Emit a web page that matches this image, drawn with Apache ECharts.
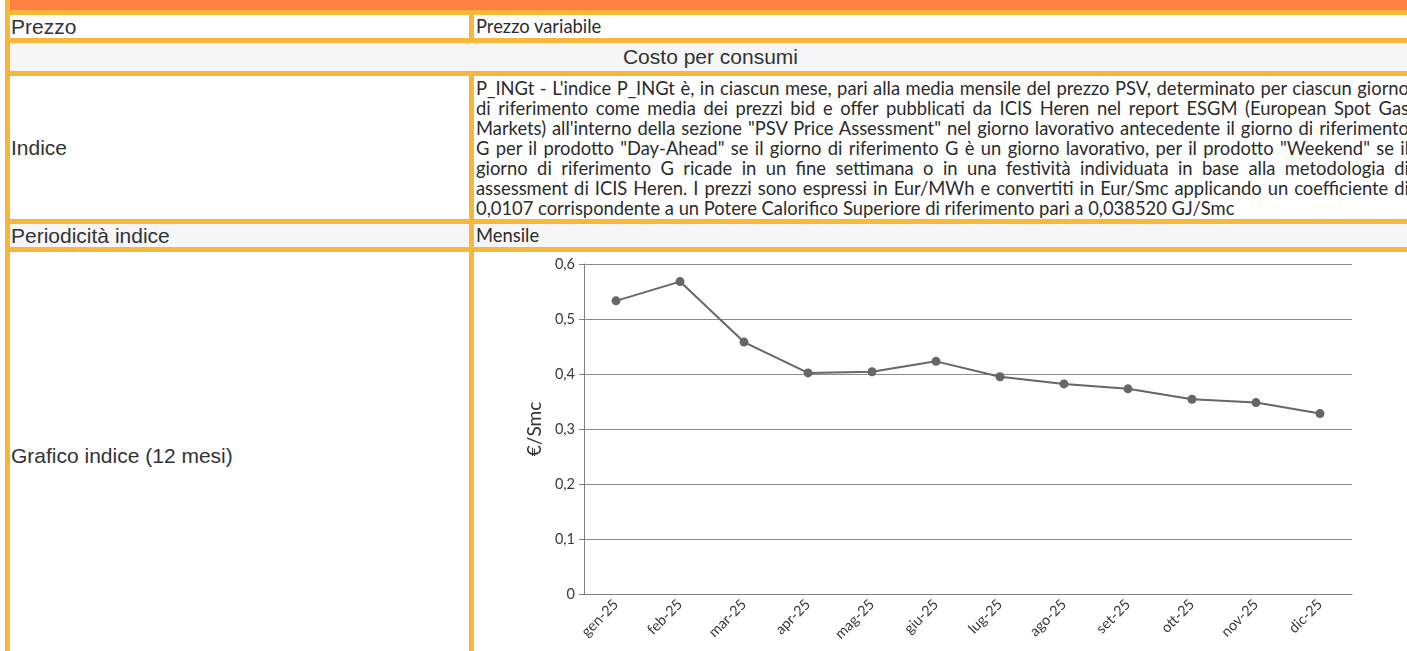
<!DOCTYPE html>
<html>
<head>
<meta charset="utf-8">
<script src="https://cdn.jsdelivr.net/npm/echarts@6/dist/echarts.min.js"></script>
<style>
html,body{margin:0;padding:0;background:#fff;width:1407px;height:651px;overflow:hidden;}
#tbl{position:absolute;left:5px;top:-5px;width:1411px;height:669px;background:#F8B63B;}
.cell{position:absolute;box-sizing:border-box;overflow:hidden;}
.w{background:#fff;}
.g{background:#F6F6F6;}
.lt{font-family:"Liberation Sans",Arial,sans-serif;font-size:21px;color:#333;display:flex;align-items:center;padding-left:1px;white-space:nowrap;}
.rt{font-family:Lato,"Open Sans",sans-serif;color:#2b2b2b;padding-left:2px;white-space:nowrap;}
.jl{width:933px;text-align:justify;text-align-last:justify;height:20px;line-height:20px;white-space:normal;overflow:visible;}
.ll{height:20px;line-height:20px;white-space:nowrap;}
</style>
</head>
<body>
<div id="tbl"></div>
<div class="cell" style="left:10px;top:0;width:1401px;height:10px;background:#FF8040;"></div>

<div class="cell w lt" style="left:10px;top:15px;width:459px;height:23px;">Prezzo</div>
<div class="cell w rt" style="left:474px;top:15px;width:937px;height:23px;line-height:23px;">Prezzo variabile</div>

<div class="cell g lt" style="left:10px;top:43px;width:1401px;height:28px;justify-content:center;padding-left:0;">Costo per consumi</div>

<div class="cell w lt" style="left:10px;top:76px;width:459px;height:143px;">Indice</div>
<div class="cell w rt" style="left:474px;top:76px;width:937px;height:143px;padding-top:2px;">
<div class="jl">P_INGt - L'indice P_INGt è, in ciascun mese, pari alla media mensile del prezzo PSV, determinato per ciascun giorno</div>
<div class="jl">di riferimento come media dei prezzi bid e offer pubblicati da ICIS Heren nel report ESGM (European Spot Gas</div>
<div class="jl">Markets) all'interno della sezione "PSV Price Assessment" nel giorno lavorativo antecedente il giorno di riferimento</div>
<div class="jl">G per il prodotto "Day-Ahead" se il giorno di riferimento G è un giorno lavorativo, per il prodotto "Weekend" se il</div>
<div class="jl">giorno di riferimento G ricade in un fine settimana o in una festività individuata in base alla metodologia di</div>
<div class="jl">assessment di ICIS Heren. I prezzi sono espressi in Eur/MWh e convertiti in Eur/Smc applicando un coefficiente di</div>
<div class="ll"><span id="last">0,0107 corrispondente a un Potere Calorifico Superiore di riferimento pari a 0,038520 GJ/Smc</span></div>
</div>

<div class="cell g lt" style="left:10px;top:224px;width:459px;height:23px;">Periodicità indice</div>
<div class="cell g rt" style="left:474px;top:224px;width:937px;height:23px;line-height:23px;">Mensile</div>

<div class="cell w lt" style="left:10px;top:252px;width:459px;height:407px;">Grafico indice (12 mesi)</div>
<div class="cell w" style="left:474px;top:252px;width:937px;height:407px;"><div id="chart" style="width:937px;height:407px;"></div></div>

<script>
// ---- data ----
const categories = ['gen-25','feb-25','mar-25','apr-25','mag-25','giu-25','lug-25','ago-25','set-25','ott-25','nov-25','dic-25'];
const values = [0.533, 0.568, 0.458, 0.402, 0.404, 0.423, 0.395, 0.382, 0.373, 0.354, 0.348, 0.328];
const yAxisName = '€/Smc';

// fit right-column font so the last line width matches the reference
(function(){
  const rts = document.querySelectorAll('.rt');
  rts.forEach(e=>e.style.fontSize='20px');
  const w = document.getElementById('last').getBoundingClientRect().width;
  const fs = 20*759/w;
  rts.forEach(e=>e.style.fontSize=fs.toFixed(2)+'px');
})();

const chart = echarts.init(document.getElementById('chart'), null, {renderer:'canvas'});
const labelFont = {fontFamily:'Lato, "Open Sans", sans-serif', fontSize:14.5, color:'#3a3a3a'};
chart.setOption({
  animation:false,
  grid:{left:110, right:59, top:12, bottom:65, containLabel:false},
  xAxis:{
    type:'category', data:categories, boundaryGap:true,
    axisLine:{lineStyle:{color:'#808080', width:1}},
    axisTick:{alignWithLabel:true, length:5, lineStyle:{color:'#808080'}},
    axisLabel:Object.assign({rotate:45, margin:8, interval:0}, labelFont)
  },
  yAxis:{
    type:'value', min:0, max:0.6, interval:0.1,
    name:yAxisName, nameLocation:'middle', nameGap:36,
    nameTextStyle:{fontFamily:'Lato, "Open Sans", sans-serif', fontSize:19, color:'#333'},
    axisLine:{show:true, lineStyle:{color:'#808080', width:1}},
    axisTick:{show:true, length:5, lineStyle:{color:'#808080'}},
    axisLabel:Object.assign({margin:9, formatter:v=>String(Math.round(v*10)/10).replace('.',',')}, labelFont),
    splitLine:{show:true, lineStyle:{color:'#8a8a8a', width:1}}
  },
  series:[{
    type:'line', data:values, symbol:'circle', symbolSize:9,
    lineStyle:{color:'#666', width:2}, itemStyle:{color:'#666'}
  }]
});
</script>
</body>
</html>
